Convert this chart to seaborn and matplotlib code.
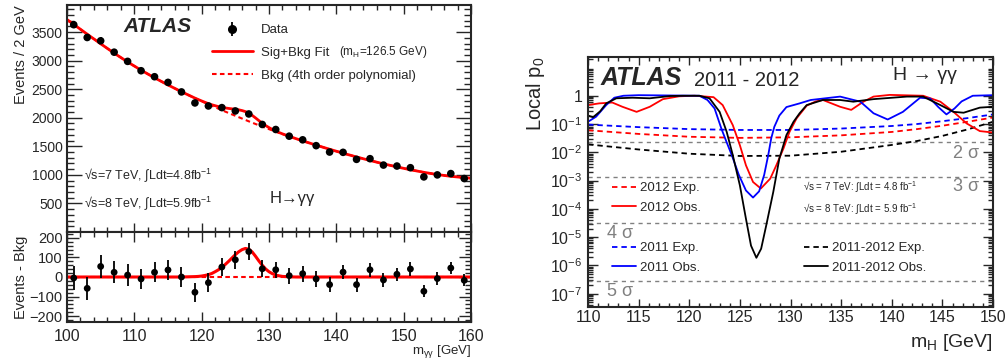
import numpy as np
import pandas as pd
import matplotlib
matplotlib.use("Agg")
import matplotlib.pyplot as plt
import seaborn as sns
from matplotlib.lines import Line2D
from matplotlib.legend import Legend
from matplotlib.ticker import MultipleLocator, FixedLocator, FixedFormatter, LogLocator, NullFormatter

# ---------------- data: left panel (diphoton mass spectrum) ----------------
mass_bins = [101, 103, 105, 107, 109, 111, 113, 115, 117, 119, 121, 123, 125, 127, 129,
             131, 133, 135, 137, 139, 141, 143, 145, 147, 149, 151, 153, 155, 157, 159]
events = [3630, 3406, 3348, 3149, 2988, 2824, 2719, 2620, 2453, 2260, 2207, 2178, 2120, 2067, 1883,
          1795, 1678, 1614, 1512, 1400, 1395, 1272, 1284, 1172, 1155, 1126, 965, 1000, 1023, 936]
event_err = [60, 58, 58, 56, 55, 53, 52, 51, 50, 48, 47, 47, 46, 45, 43,
             42, 41, 40, 39, 37, 37, 36, 36, 34, 34, 34, 31, 32, 32, 31]
residual = [-5, -58, 54, 24, 10, -10, 24, 36, 0, -78, -29, 51, 88, 130, 42,
            37, 7, 17, -10, -39, 25, -39, 37, -15, 14, 41, -73, -8, 46, -17]

bkg_mass = [100, 101, 103, 105, 107, 109, 111, 113, 115, 117, 119, 121, 123, 125, 127, 129,
            131, 133, 135, 137, 139, 141, 143, 145, 147, 149, 151, 153, 155, 157, 159, 160]
bkg_events = [3720, 3635, 3464, 3296, 3132, 2978, 2834, 2700, 2575, 2456, 2343, 2236, 2133, 2035, 1938, 1845,
              1757, 1674, 1596, 1521, 1449, 1380, 1314, 1252, 1194, 1140, 1090, 1045, 1006, 975, 952, 942]

sig_mass = [100, 117, 118, 119, 119.5, 120, 120.5, 121, 121.5, 122, 122.5, 123, 123.5, 124, 124.5, 125,
            125.5, 126, 126.5, 127, 127.5, 128, 128.5, 129, 129.5, 130, 130.5, 131, 131.5, 132, 133, 134, 160]
sig_events = [0, 0, 1, 2, 3, 5, 8, 12, 18, 27, 37, 50, 64, 80, 97, 114,
              129, 140, 146, 142, 128, 106, 82, 60, 41, 27, 17, 10, 6, 3, 1, 0, 0]

# ---------------- data: right panel (local p0) ----------------
exp_mass = [110, 115, 120, 125, 130, 135, 140, 142.5, 145, 147.5, 150]
exp2011_log = [-1.02, -1.11, -1.18, -1.21, -1.21, -1.16, -1.07, -1.00, -0.90, -0.79, -0.66]
exp2012_log = [-1.22, -1.35, -1.45, -1.49, -1.47, -1.40, -1.28, -1.18, -1.06, -0.92, -0.77]
expcomb_log = [-1.72, -1.90, -2.05, -2.13, -2.12, -1.98, -1.74, -1.60, -1.42, -1.19, -0.92]

obs2011_mass = [110, 110.8, 111.8, 112.6, 113.5, 115, 118, 121, 121.8, 122.5, 123.2, 123.7, 124.2, 124.9,
                125.6, 126.3, 126.9, 127.4, 127.8, 128.1, 128.4, 128.9, 129.6, 130.9, 132, 134.9, 136.9,
                138.2, 139.6, 141.1, 142.8, 143.8, 144.6, 145.4, 146.2, 146.9, 148, 150]
obs2011_log = [-0.92, -0.74, -0.33, -0.07, 0.0, 0.02, 0.01, 0.0, -0.15, -0.45, -1.19, -1.65, -2.1, -2.8,
               -3.35, -3.6, -3.38, -2.8, -2.1, -1.5, -1.1, -0.7, -0.4, -0.27, -0.15, -0.03, -0.21,
               -0.62, -0.84, -0.57, -0.07, -0.1, -0.4, -0.66, -0.45, -0.2, 0.0, 0.02]

obs2012_mass = [110, 111.1, 112.4, 113.4, 114.8, 116.1, 117.4, 119, 120.5, 122.4, 123.3, 124.3, 125, 125.6,
                126.3, 127.07, 128, 128.6, 129.3, 129.9, 130.6, 131.6, 132.5, 133.2, 134.9, 136, 137.2,
                138.2, 139.8, 143.1, 144.8, 146.1, 147.4, 148.7, 150]
obs2012_log = [-0.33, -0.27, -0.24, -0.39, -0.57, -0.39, -0.12, -0.02, 0.0, -0.05, -0.33, -1.04, -1.75, -2.46,
               -3.05, -3.28, -2.93, -2.46, -1.87, -1.28, -0.8, -0.35, -0.2, -0.15, -0.39, -0.5, -0.21,
               -0.03, 0.03, 0.0, -0.21, -0.57, -0.98, -1.25, -1.3]

obscomb_mass = [110, 110.5, 111.2, 111.8, 112.8, 114.4, 116.1, 118.1, 119.4, 121, 122, 123, 123.7, 124.3,
                125, 125.6, 126.1, 126.63, 127.1, 127.6, 128.3, 128.9, 129.6, 130.3, 130.9, 131.6, 133.2,
                134.9, 136.2, 138.2, 141.5, 143.1, 144.8, 146.1, 147.1, 148.7, 150]
obscomb_log = [-0.70, -0.76, -0.55, -0.27, -0.09, -0.07, -0.09, -0.01, 0.0, 0.0, -0.09, -0.57, -1.28, -2.1,
               -3.17, -4.35, -5.3, -5.73, -5.41, -4.59, -3.4, -2.22, -1.39, -0.92, -0.62, -0.33, -0.15,
               -0.15, -0.21, -0.12, -0.03, -0.03, -0.33, -0.57, -0.6, -0.42, -0.39]

sigma_p0 = [0.02275, 0.00135, 3.17e-5, 2.87e-7]
sigma_labels = ["2 σ", "3 σ", "4 σ", "5 σ"]
p0_ticks = [1e-7, 1e-6, 1e-5, 1e-4, 1e-3, 1e-2, 1e-1, 1]
p0_ticklabels = ["10$^{-7}$", "10$^{-6}$", "10$^{-5}$", "10$^{-4}$", "10$^{-3}$", "10$^{-2}$", "10$^{-1}$", "1"]

# ---------------- style ----------------
sns.set_style("ticks")
plt.rcParams['font.family'] = ['Liberation Sans', 'DejaVu Sans']
plt.rcParams['mathtext.fontset'] = 'custom'
plt.rcParams['mathtext.rm'] = 'Liberation Sans'
plt.rcParams['mathtext.it'] = 'Liberation Sans:italic'
plt.rcParams['mathtext.bf'] = 'Liberation Sans:bold'
plt.rcParams['axes.linewidth'] = 1.5

RED = '#ff0000'
BLUE = '#0000ff'
GRAY = '#808080'

W, H = 1005, 362
fig = plt.figure(figsize=(W / 100, H / 100), dpi=100)


def rect(l, t, r, b):
    return [l / W, 1 - b / H, (r - l) / W, (b - t) / H]


def fp(x, y):
    return (x / W, 1 - y / H)


ax1 = fig.add_axes(rect(67, 5, 471, 232))
ax2 = fig.add_axes(rect(67, 232, 471, 322))
ax3 = fig.add_axes(rect(588, 57, 993, 307))

# ---------------- top-left: spectrum ----------------
fit_x = np.array(sorted(set(bkg_mass) | set(sig_mass)), dtype=float)
fit_y = np.interp(fit_x, bkg_mass, bkg_events) + np.interp(fit_x, sig_mass, sig_events)

sns.lineplot(x=bkg_mass, y=bkg_events, ax=ax1, color=RED, linewidth=1.5, estimator=None, sort=False)
ax1.lines[-1].set_dashes([2.2, 1.6])
sns.lineplot(x=fit_x, y=fit_y, ax=ax1, color=RED, linewidth=2.0, estimator=None, sort=False)
ax1.errorbar(mass_bins, events, yerr=event_err, fmt='none', ecolor='black', elinewidth=1.3, capsize=0, zorder=3)
sns.scatterplot(x=mass_bins, y=events, ax=ax1, color='black', s=30, edgecolor='none', zorder=4)

ax1.set_xlim(100, 160)
ax1.set_ylim(0, 3975)
ax1.yaxis.set_major_locator(FixedLocator([500, 1000, 1500, 2000, 2500, 3000, 3500]))
ax1.yaxis.set_minor_locator(MultipleLocator(100))
ax1.xaxis.set_major_locator(MultipleLocator(10))
ax1.xaxis.set_minor_locator(MultipleLocator(2))
ax1.tick_params(axis='x', labelbottom=False)
ax1.set_ylabel("Events / 2 GeV", loc='top', fontsize=10.5, labelpad=3)
ax1.set_xlabel("")

# ---------------- bottom-left: residuals ----------------
sns.lineplot(x=[100, 160], y=[0, 0], ax=ax2, color=RED, linewidth=1.5, estimator=None, sort=False)
ax2.lines[-1].set_dashes([2.2, 1.6])
sns.lineplot(x=sig_mass, y=sig_events, ax=ax2, color=RED, linewidth=2.2, estimator=None, sort=False)
ax2.errorbar(mass_bins, residual, yerr=event_err, fmt='none', ecolor='black', elinewidth=1.3, capsize=0, zorder=3)
sns.scatterplot(x=mass_bins, y=residual, ax=ax2, color='black', s=24, edgecolor='none', zorder=4)

ax2.set_xlim(100, 160)
ax2.set_ylim(-230, 230)
ax2.yaxis.set_major_locator(MultipleLocator(100))
ax2.yaxis.set_minor_locator(MultipleLocator(20))
ax2.xaxis.set_major_locator(MultipleLocator(10))
ax2.xaxis.set_minor_locator(MultipleLocator(2))
ax2.set_ylabel("Events - Bkg", fontsize=10.5, labelpad=1)
ax2.set_xlabel("m$_{\\mathrm{γγ}}$ [GeV]", loc='right', fontsize=9.5, labelpad=-1)

for ax, (ymaj, ymin, xmaj, xmin) in [(ax1, (10.5, 5, 6.5, 3.6)), (ax2, (8.6, 4.3, 7.2, 3.6))]:
    ax.tick_params(which='both', direction='in', top=True, right=True, width=1)
    ax.tick_params(axis='y', which='major', length=ymaj, labelsize=10 if ax is ax1 else 10.5, pad=3)
    ax.tick_params(axis='y', which='minor', length=ymin)
    ax.tick_params(axis='x', which='major', length=xmaj, labelsize=11.5, pad=5)
    ax.tick_params(axis='x', which='minor', length=xmin)

# left-panel texts and legend
fig.text(*fp(123, 26), "ATLAS", fontsize=15, fontweight='bold', fontstyle='italic', va='center', ha='left')
data_handle = (Line2D([], [], marker='o', ls='none', color='black', markersize=5.5),
               Line2D([], [], marker='|', ls='none', color='black', markersize=10, markeredgewidth=1.3))
fit_handle = Line2D([], [], color=RED, lw=2.0)
bkg_handle = Line2D([], [], color=RED, lw=1.5, dashes=[2.2, 1.6])
leg1 = Legend(ax1, [data_handle, fit_handle, bkg_handle], ["Data", "Sig+Bkg Fit", "Bkg (4th order polynomial)"],
              loc='upper left', bbox_to_anchor=fp(212, 24), bbox_transform=fig.transFigure,
              frameon=False, fontsize=9.5, handlelength=3.1, handletextpad=0.6, labelspacing=0.8,
              borderpad=0, borderaxespad=0)
ax1.add_artist(leg1)
fig.text(*fp(339, 52), "(m$_\\mathrm{H}$=126.5 GeV)", fontsize=8.5, va='center', ha='left')
fig.text(*fp(84, 175), "√s=7 TeV, ∫Ldt=4.8fb$^{-1}$", fontsize=9, va='center', ha='left')
fig.text(*fp(84, 203), "√s=8 TeV, ∫Ldt=5.9fb$^{-1}$", fontsize=9, va='center', ha='left')
fig.text(*fp(270, 198), "H→γγ", fontsize=12, va='center', ha='left')

# ---------------- right panel: local p0 ----------------
for y in sigma_p0:
    ax3.axhline(y, color=GRAY, lw=1.0, dashes=[3, 3], zorder=1)

exp_styles = [(exp2012_log, RED), (exp2011_log, BLUE), (expcomb_log, 'black')]
for vals, col in exp_styles:
    sns.lineplot(x=exp_mass, y=np.power(10.0, vals), ax=ax3, color=col, linewidth=1.3,
                 estimator=None, sort=False)
    ax3.lines[-1].set_dashes([3, 2.2])

obs_styles = [(obs2012_mass, obs2012_log, RED), (obs2011_mass, obs2011_log, BLUE),
              (obscomb_mass, obscomb_log, 'black')]
for m, vals, col in obs_styles:
    sns.lineplot(x=m, y=np.power(10.0, vals), ax=ax3, color=col, linewidth=1.3,
                 estimator=None, sort=False)

ax3.set_yscale('log')
ax3.set_xlim(110, 150)
ax3.set_ylim(10 ** -7.47, 10 ** 1.37)
ax3.yaxis.set_major_locator(FixedLocator(p0_ticks))
ax3.yaxis.set_major_formatter(FixedFormatter(p0_ticklabels))
ax3.yaxis.set_minor_locator(LogLocator(base=10, subs=np.arange(2, 10), numticks=20))
ax3.yaxis.set_minor_formatter(NullFormatter())
ax3.xaxis.set_major_locator(MultipleLocator(5))
ax3.xaxis.set_minor_locator(MultipleLocator(1))
ax3.tick_params(which='both', direction='in', top=True, right=True, width=1)
ax3.tick_params(axis='y', which='major', length=7.2, labelsize=11.5, pad=4)
ax3.tick_params(axis='y', which='minor', length=3.6)
ax3.tick_params(axis='x', which='major', length=5.8, labelsize=11.5, pad=2)
ax3.tick_params(axis='x', which='minor', length=2.9)
ax3.set_ylabel("Local p$_0$", loc='top', fontsize=14.5, labelpad=2)
ax3.set_xlabel("m$_\\mathrm{H}$ [GeV]", loc='right', fontsize=14, labelpad=5)

fig.text(*fp(601, 78), "ATLAS", fontsize=18, fontweight='bold', fontstyle='italic', va='center', ha='left')
fig.text(*fp(694, 80), "2011 - 2012", fontsize=14.5, va='center', ha='left')
fig.text(*fp(893, 75), "H → γγ", fontsize=14, va='center', ha='left')
fig.text(*fp(803, 187), "√s = 7 TeV: ∫Ldt = 4.8 fb$^{-1}$", fontsize=7, va='center', ha='left')
fig.text(*fp(803, 209), "√s = 8 TeV: ∫Ldt = 5.9 fb$^{-1}$", fontsize=7, va='center', ha='left')
sigma_pos = [(953, 153), (953, 187), (607, 233), (607, 291)]
for (x, y), lab in zip(sigma_pos, sigma_labels):
    fig.text(*fp(x, y), lab, fontsize=13, color=GRAY, va='center', ha='left')


def leg_pair(handles, labels, x, y):
    lg = Legend(ax3, handles, labels, loc='upper left', bbox_to_anchor=fp(x, y), bbox_transform=fig.transFigure,
                frameon=False, fontsize=9.5, handlelength=1.8, handletextpad=0.35, labelspacing=0.55,
                borderpad=0, borderaxespad=0)
    ax3.add_artist(lg)
    return lg


leg_pair([Line2D([], [], color=RED, lw=1.3, dashes=[3, 2.2]), Line2D([], [], color=RED, lw=1.3)],
         ["2012 Exp.", "2012 Obs."], 612, 182)
leg_pair([Line2D([], [], color=BLUE, lw=1.3, dashes=[3, 2.2]), Line2D([], [], color=BLUE, lw=1.3)],
         ["2011 Exp.", "2011 Obs."], 612, 242)
leg_pair([Line2D([], [], color='black', lw=1.3, dashes=[3, 2.2]), Line2D([], [], color='black', lw=1.3)],
         ["2011-2012 Exp.", "2011-2012 Obs."], 804, 242)

fig.savefig("out.png", dpi=100)
